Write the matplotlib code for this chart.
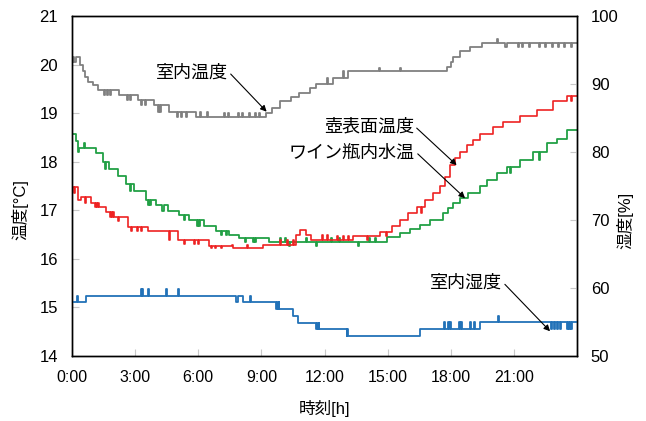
import matplotlib
matplotlib.use("Agg")
import matplotlib.pyplot as plt
import numpy as np

plt.rcParams['font.family'] = ['Liberation Sans', 'Noto Sans CJK JP']

# ---- data (hours, values) ----
room_t_t = [0, 0.2, 0.4, 0.5, 0.6, 0.75, 1.0, 1.22, 2.25, 3.12, 3.91, 4.63, 5.89, 9.22, 9.5, 9.9,
            10.4, 10.8, 11.3, 11.6, 12.4, 13.13, 17.81, 18.0, 18.12, 18.44, 18.92, 19.47, 24]
room_t_v = [20.06, 20.16, 20.0, 19.87, 19.75, 19.65, 19.58, 19.48, 19.37, 19.27, 19.17, 19.03, 18.93,
            19.0, 19.1, 19.24, 19.34, 19.41, 19.51, 19.6, 19.72, 19.86, 19.95, 20.05, 20.15, 20.27,
            20.36, 20.44, 20.44]
room_t_blip = [(0.05, 20.16), (1.5, 19.37), (1.65, 19.37), (1.8, 19.37), (2.6, 19.27), (2.75, 19.27),
               (3.3, 19.17), (3.45, 19.17), (4.1, 19.03), (4.2, 19.03), (5.0, 18.93), (5.2, 18.93),
               (5.4, 18.93), (6.1, 19.03), (6.4, 19.03), (7.2, 19.0), (7.4, 19.0), (7.9, 19.0),
               (8.1, 19.0), (8.4, 19.0), (8.7, 19.0), (8.9, 19.0), (12.1, 19.72), (12.9, 19.86),
               (13.5, 19.86), (14.6, 19.93), (15.6, 19.93), (16.6, 19.86), (16.8, 19.86), (17.0, 19.86),
               (17.3, 19.86), (17.5, 19.86), (18.3, 20.15), (19.2, 20.36), (19.35, 20.36), (20.2, 20.52),
               (20.6, 20.36), (21.2, 20.36), (21.4, 20.36), (21.7, 20.36), (22.2, 20.36), (22.5, 20.36),
               (22.8, 20.36), (23.1, 20.36), (23.4, 20.36), (23.7, 20.36)]

pot_t = [0, 0.27, 0.43, 0.9, 1.3, 1.62, 2.01, 2.65, 3.6, 5.02, 6.53, 7.64, 9.06, 10.65, 10.85, 11.1,
         11.36, 13.37, 14.64, 15.19, 15.59, 15.98, 16.38, 16.78, 17.17, 17.49, 17.73, 17.97, 18.2,
         18.44, 18.76, 19.07, 19.39, 20.02, 20.5, 21.29, 22.09, 22.88, 23.51, 24]
pot_v = [17.47, 17.21, 17.27, 17.16, 17.06, 16.97, 16.86, 16.66, 16.57, 16.39, 16.26, 16.22, 16.29,
         16.49, 16.59, 16.49, 16.38, 16.47, 16.56, 16.68, 16.8, 16.94, 17.07, 17.21, 17.35, 17.49,
         17.69, 17.93, 18.07, 18.21, 18.34, 18.45, 18.57, 18.72, 18.82, 18.94, 19.06, 19.24, 19.35, 19.35]
pot_blip = [(0.1, 17.36), (0.6, 17.16), (1.1, 17.06), (1.2, 17.06), (1.8, 16.86), (1.9, 16.86),
            (2.2, 16.77), (2.8, 16.57), (3.1, 16.57), (3.3, 16.57), (4.0, 16.57), (4.6, 16.39),
            (5.3, 16.3), (5.8, 16.3), (6.0, 16.3), (6.6, 16.22), (6.8, 16.22), (7.1, 16.22),
            (7.6, 16.29), (8.3, 16.29), (9.9, 16.38), (10.2, 16.38), (10.5, 16.38), (11.9, 16.49),
            (12.1, 16.49), (12.6, 16.47), (12.9, 16.47), (13.1, 16.47), (14.0, 16.38), (14.9, 16.47),
            (16.6, 16.94), (17.1, 17.21), (18.6, 18.21), (19.0, 18.34), (19.9, 18.57), (20.3, 18.72),
            (20.9, 18.82), (21.1, 18.82), (21.8, 18.94), (22.6, 19.06), (23.3, 19.24), (23.7, 19.24)]

wine_t = [0, 0.19, 0.35, 1.14, 1.46, 1.77, 2.17, 2.57, 2.96, 3.52, 3.99, 4.55, 5.1, 5.58, 6.29, 6.84,
          7.48, 7.95, 9.38, 14.96, 15.59, 16.06, 16.54, 17.02, 17.65, 17.89, 18.12, 18.44, 18.84,
          19.39, 19.71, 20.19, 20.66, 21.29, 21.93, 22.56, 23.04, 23.51, 24]
wine_v = [18.58, 18.42, 18.29, 18.17, 17.99, 17.86, 17.71, 17.55, 17.4, 17.21, 17.11, 16.99, 16.9,
          16.8, 16.68, 16.57, 16.49, 16.42, 16.35, 16.46, 16.53, 16.61, 16.7, 16.8, 16.94, 17.04,
          17.14, 17.25, 17.35, 17.49, 17.62, 17.76, 17.9, 18.04, 18.19, 18.38, 18.46, 18.65, 18.65]
wine_blip = [(0.3, 18.2), (0.55, 18.38), (0.6, 18.38), (1.55, 17.86), (2.3, 17.71), (2.75, 17.4),
             (3.2, 17.4), (3.6, 17.11), (3.7, 17.11), (4.3, 16.99), (5.3, 16.8), (5.95, 16.68),
             (6.05, 16.68), (7.1, 16.49), (7.3, 16.49), (8.2, 16.35), (8.6, 16.35), (8.7, 16.35),
             (9.1, 16.42), (9.9, 16.42), (10.1, 16.42), (10.3, 16.27), (11.1, 16.42), (11.6, 16.27),
             (12.3, 16.42), (12.7, 16.42), (13.6, 16.27), (14.1, 16.42), (14.4, 16.42), (15.3, 16.46),
             (17.3, 16.8), (18.3, 17.14), (19.0, 17.35), (19.2, 17.35), (20.8, 17.76), (21.5, 18.04),
             (22.2, 18.04), (22.8, 18.38)]

hum_t = [0, 0.67, 7.79, 7.88, 8.11, 9.85, 10.49, 10.73, 11.76, 13.05, 13.29, 16.54, 19.39, 24]
hum_v = [57.9, 58.87, 57.9, 58.87, 57.9, 56.87, 55.88, 54.9, 53.9, 52.94, 52.94, 53.9, 54.95, 54.95]
hum_blip = [(0.22, 58.87), (3.28, 59.85), (3.33, 59.85), (3.6, 59.85), (4.47, 59.85), (5.02, 59.85),
            (8.48, 58.87), (9.7, 56.87), (9.78, 56.87), (11.6, 53.9), (11.68, 53.9), (13.05, 53.9),
            (17.7, 54.95), (17.85, 54.95), (17.95, 54.95), (18.4, 54.95), (18.5, 54.95), (18.9, 54.95),
            (19.1, 54.95), (20.26, 55.9), (22.75, 53.9), (22.9, 53.9), (23.05, 53.9), (23.2, 53.9),
            (23.51, 53.9), (23.6, 53.9), (23.7, 53.9)]

ann_labels = ['室内温度', '壺表面温度', 'ワイン瓶内水温', '室内湿度']


def build(ts, vs, blips, w=0.05):
    pts = list(zip(ts, vs))
    for bt, bv in blips:
        base_after = vs[np.searchsorted(ts, bt + w, side='right') - 1]
        pts.append((bt, bv))
        pts.append((bt + w, base_after))
    pts.sort(key=lambda p: p[0])
    t = np.array([p[0] for p in pts])
    v = np.array([p[1] for p in pts])
    return t, v


fig = plt.figure(figsize=(6.46, 4.21), dpi=100)
ax = fig.add_axes([72 / 646, 65 / 421, 505 / 646, 340 / 421])
ax2 = ax.twinx()

gray = '#808080'
red = '#ee2222'
green = '#22a045'
blue = '#2272b8'

t, v = build(room_t_t, room_t_v, room_t_blip)
ax.plot(t, v, drawstyle='steps-post', color=gray, lw=1.3)
t, v = build(wine_t, wine_v, wine_blip)
ax.plot(t, v, drawstyle='steps-post', color=green, lw=1.3)
t, v = build(pot_t, pot_v, pot_blip)
ax.plot(t, v, drawstyle='steps-post', color=red, lw=1.2)
t, v = build(hum_t, hum_v, hum_blip)
ax2.plot(t, v, drawstyle='steps-post', color=blue, lw=1.3)

ax.set_xlim(0, 24)
ax.set_ylim(14, 21)
ax2.set_ylim(50, 100)
ax.set_xticks(np.arange(0, 25, 3))
ax.set_xticklabels(['0:00', '3:00', '6:00', '9:00', '12:00', '15:00', '18:00', '21:00', ''])
ax.set_yticks(range(14, 22))
ax2.set_yticks(range(50, 101, 10))

for a in (ax, ax2):
    a.tick_params(direction='in', length=5, width=0.8, color='#c8c8c8', labelsize=12, pad=10)
    for s in a.spines.values():
        s.set_linewidth(1.0)
        s.set_color('black')
ax.tick_params(axis='x', labelsize=11.5, pad=10)

ax.set_xlabel('時刻[h]', fontsize=12)
ax.xaxis.set_label_coords(0.5, -0.128)
ax.set_ylabel('温度[°C]', fontsize=12)
ax.yaxis.set_label_coords(-0.086, 0.43)
ax2.set_ylabel('湿度[%]', fontsize=12, rotation=90)
ax2.yaxis.set_label_coords(1.078, 0.40)

arrow = dict(arrowstyle='-|>', color='black', lw=0.8, mutation_scale=9, shrinkA=0, shrinkB=0)
ann = [((9.25, 19.03), (7.41, 19.83)),
       ((18.28, 17.93), (16.25, 18.71)),
       ((18.68, 17.25), (16.3, 18.18)),
       ((22.72, 14.51), (20.44, 15.5))]
for lab, (xy, xyt) in zip(ann_labels, ann):
    ap = dict(arrow)
    ap['relpos'] = (1.0, 0.6)
    ax2.annotate(lab, xy=xy, xycoords=ax.transData, xytext=xyt, textcoords=ax.transData,
                 ha='right', va='center', fontsize=13, arrowprops=ap)

fig.savefig('out.png', dpi=100)
